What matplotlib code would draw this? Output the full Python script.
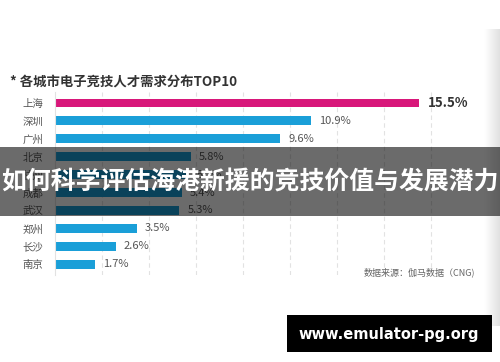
import matplotlib
matplotlib.use("Agg")
import matplotlib.pyplot as plt
import numpy as np
from matplotlib.patches import Rectangle

plt.rcParams['font.family'] = ['Noto Sans CJK SC', 'DejaVu Sans']

# 数据
cities = ['上海', '深圳', '广州', '北京', '杭州', '成都', '武汉', '郑州', '长沙', '南京']
shares = [15.5, 10.9, 9.6, 5.8, 5.7, 5.4, 5.3, 3.5, 2.6, 1.7]
title = '* 各城市电子竞技人才需求分布TOP10'
source = '数据来源：伽马数据（CNG)'
banner = '如何科学评估海港新援的竞技价值与发展潜力'
watermark = 'www.emulator-pg.org'

blue = '#1a9fd8'
pink = '#d8177a'

fig = plt.figure(figsize=(5, 3.62), dpi=100)
fig.patch.set_facecolor('white')

ax = fig.add_axes([0.109, 0.240, 0.80, 0.506])
colors = [pink] + [blue] * (len(cities) - 1)
y = list(range(len(cities)))
ax.barh(y, shares, height=0.47, color=colors, zorder=2)
ax.set_xlim(0, 17)
ax.set_ylim(9.6, -0.6)
ax.set_xticks([2, 4, 6, 8, 10, 12, 14, 16])
ax.grid(axis='x', color='#e2e2e2', linestyle=(0, (4, 3)), linewidth=0.8, zorder=0)
ax.tick_params(axis='x', length=0, labelbottom=False)
ax.tick_params(axis='y', length=0, pad=8)
ax.set_yticks(y)
ax.set_yticklabels(cities, fontsize=7.5, color='#555555')
for s in ['top', 'right', 'bottom']:
    ax.spines[s].set_visible(False)
ax.spines['left'].set_color('#e2e2e2')
ax.spines['left'].set_linewidth(0.8)

for i, v in enumerate(shares):
    if i == 0:
        ax.text(v + 0.35, i, f'{v}%', va='center', ha='left', fontsize=9.5,
                fontweight='bold', color='#333333')
    else:
        ax.text(v + 0.35, i, f'{v}%', va='center', ha='left', fontsize=8,
                color='#555555')

fig.text(0.02, 0.773, title, fontsize=9.6, fontweight='bold', color='#333333',
         va='center', ha='left')
fig.text(0.95, 0.249, source, fontsize=6.5, color='#666666', va='center', ha='right')

# 右侧阴影渐变
shade = fig.add_axes([484 / 500, 0.10, 16 / 500, 0.82])
shade.imshow(np.linspace(1.0, 0.88, 32).reshape(1, -1), aspect='auto', cmap='gray',
             vmin=0, vmax=1)
shade.axis('off')

# 半透明横幅
fig.patches.append(Rectangle((0, 1 - 216 / 362), 1, 69 / 362, transform=fig.transFigure,
                             facecolor='black', alpha=0.58, zorder=5))
fig.text(0.5, 1 - 182 / 362, banner, fontsize=17.9, fontweight='bold', color='white',
         va='center', ha='center', zorder=6)

# 水印
fig.patches.append(Rectangle((287 / 500, 1 - 352 / 362), 205 / 500, 37 / 362,
                             transform=fig.transFigure, facecolor='black', zorder=5))
fig.text(389 / 500, 1 - 334 / 362, watermark, fontsize=10.5, fontweight='bold',
         color='white', va='center', ha='center', family='DejaVu Sans', zorder=6)

fig.savefig('out.png', dpi=100)
